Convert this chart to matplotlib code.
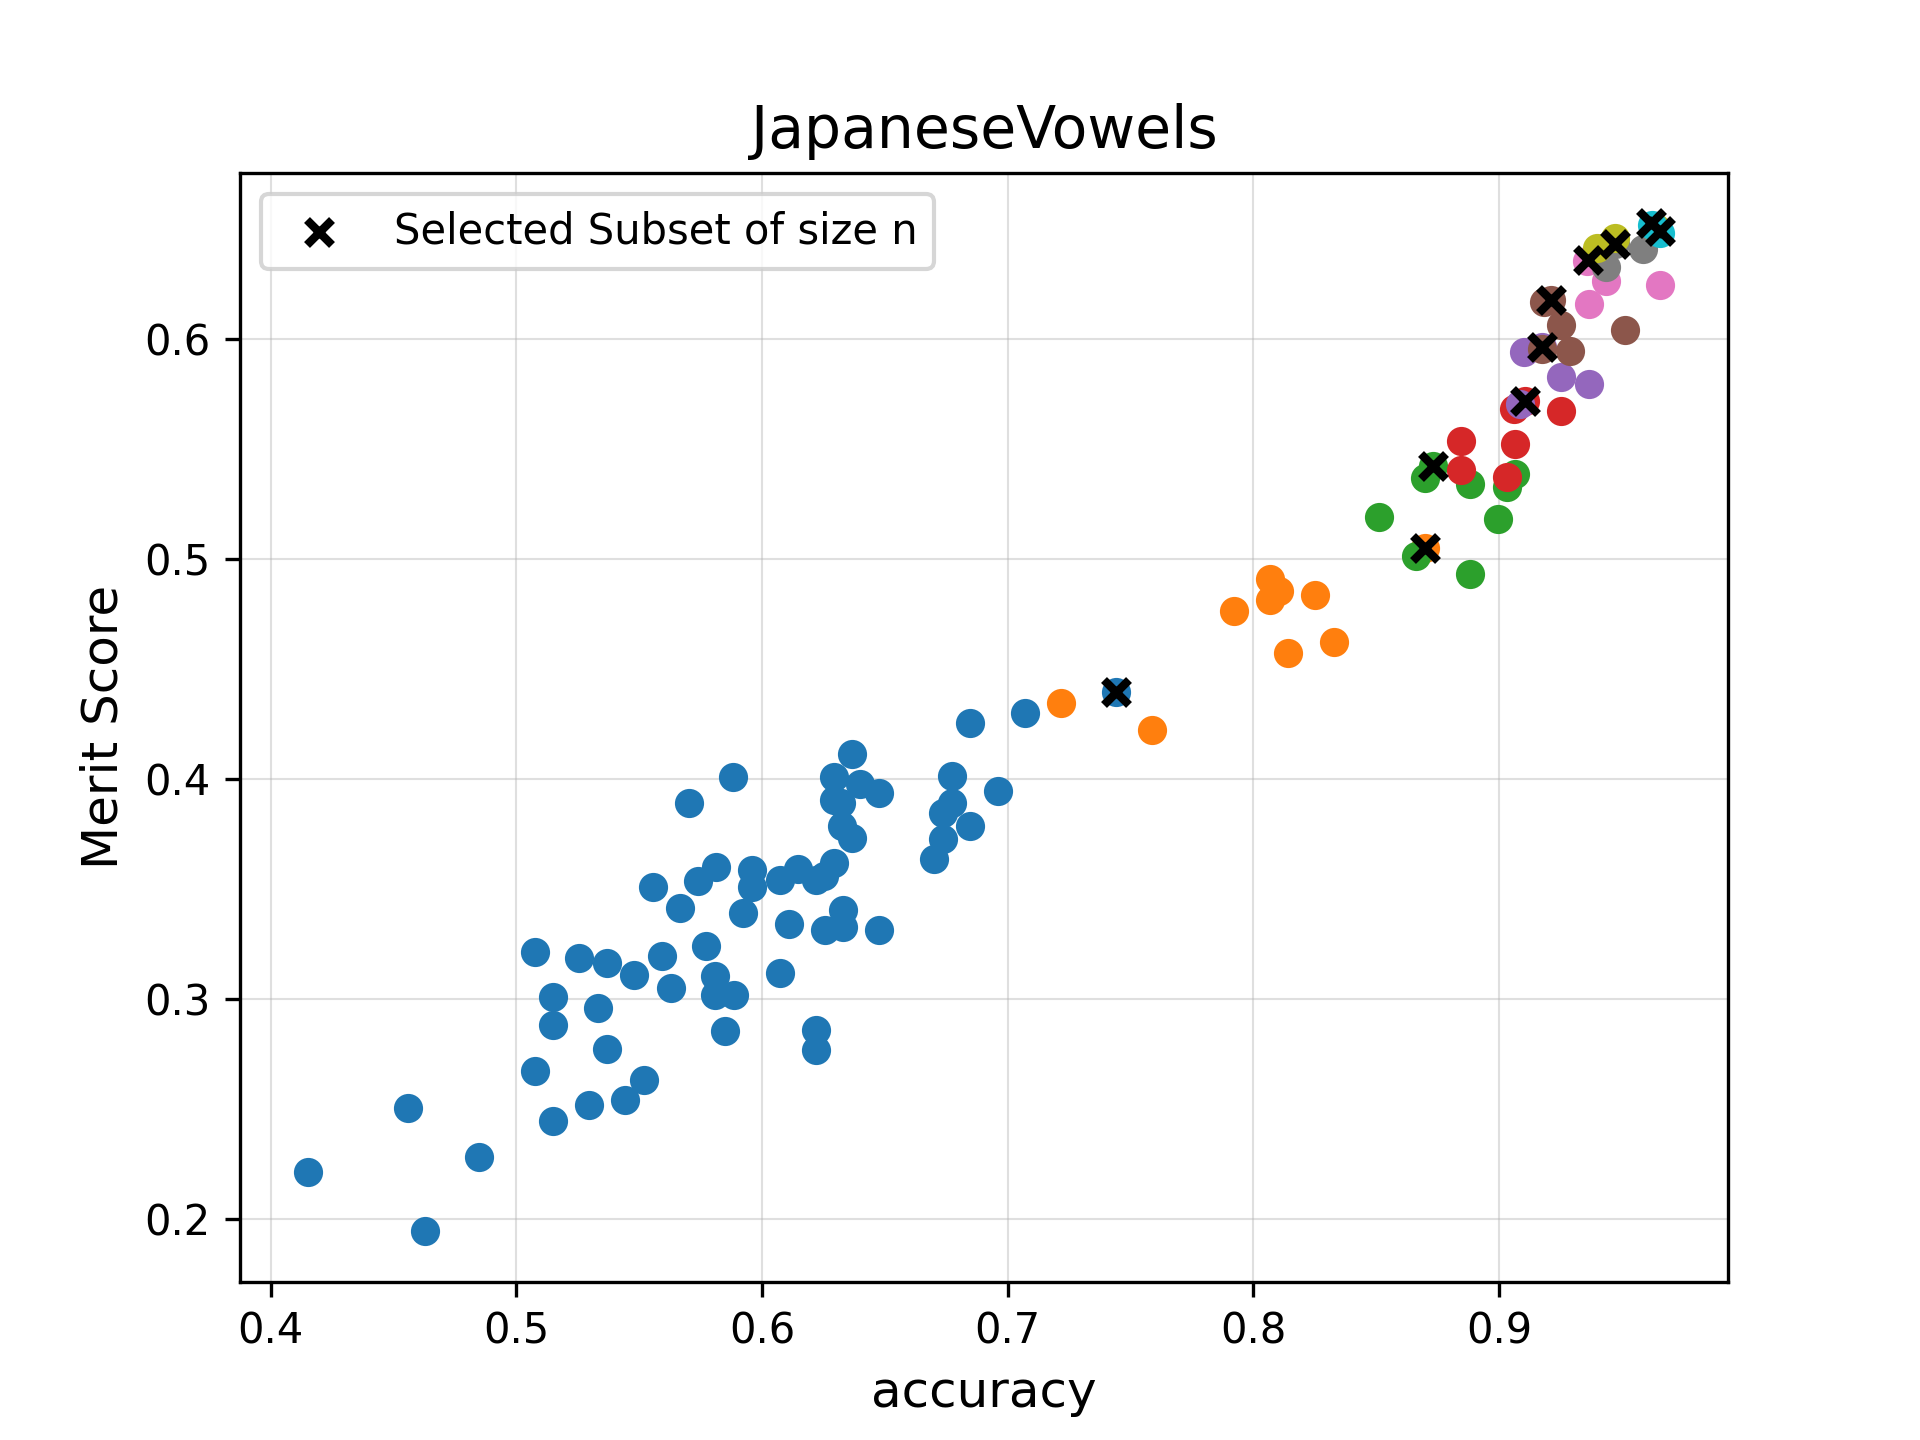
import matplotlib
matplotlib.use('Agg')
import matplotlib.pyplot as plt

# subset size groups (accuracy, merit score)
acc_1 = [0.415, 0.4559, 0.4629, 0.4848, 0.5074, 0.5256, 0.5367, 0.5477, 0.5591, 0.5628,
         0.5773, 0.581, 0.581, 0.5885, 0.5848, 0.6071, 0.6219, 0.6219, 0.5147, 0.5147,
         0.5331, 0.5367, 0.5074, 0.5518, 0.5441, 0.5294, 0.5147, 0.5555, 0.5665, 0.5738,
         0.5811, 0.5958, 0.5958, 0.5921, 0.6071, 0.6146, 0.622, 0.6254, 0.6292, 0.6109,
         0.6255, 0.6329, 0.6329, 0.6478, 0.5702, 0.5881, 0.6845, 0.707, 0.6366, 0.6292,
         0.640, 0.6478, 0.6292, 0.632, 0.6326, 0.6366, 0.6773, 0.696, 0.6773, 0.6736,
         0.6845, 0.6736, 0.670, 0.7441]
merit_1 = [0.2212, 0.2506, 0.1945, 0.2284, 0.3214, 0.3189, 0.3164, 0.3109, 0.3195, 0.305,
           0.3241, 0.3106, 0.302, 0.302, 0.2855, 0.3118, 0.2861, 0.2771, 0.301, 0.2882,
           0.2959, 0.2773, 0.2674, 0.2632, 0.2541, 0.2518, 0.2447, 0.3509, 0.3413, 0.3536,
           0.360, 0.3586, 0.351, 0.3391, 0.3542, 0.3591, 0.3541, 0.356, 0.3618, 0.3341,
           0.3313, 0.3404, 0.3328, 0.3313, 0.3892, 0.4009, 0.4254, 0.4299, 0.4113, 0.401,
           0.398, 0.3939, 0.3904, 0.389, 0.3787, 0.3734, 0.4015, 0.3946, 0.3893, 0.3848,
           0.3787, 0.3727, 0.3636, 0.4395]

acc_2 = [0.7217, 0.7588, 0.7922, 0.8068, 0.8106, 0.8068, 0.8252, 0.8142, 0.833, 0.8697]
merit_2 = [0.4345, 0.4222, 0.4767, 0.4911, 0.4858, 0.4813, 0.4836, 0.4572, 0.4622, 0.5052]

acc_3 = [0.8661, 0.8513, 0.8884, 0.8994, 0.8732, 0.8697, 0.8884, 0.9031, 0.9067]
merit_3 = [0.5013, 0.5194, 0.4931, 0.5181, 0.5426, 0.537, 0.534, 0.5328, 0.5388]

acc_4 = [0.8847, 0.8847, 0.9067, 0.9031, 0.9104, 0.9063, 0.9251]
merit_4 = [0.5537, 0.5408, 0.5526, 0.5373, 0.5718, 0.5683, 0.5676]

acc_5 = [0.9087, 0.9102, 0.9176, 0.9251, 0.9365]
merit_5 = [0.5706, 0.5941, 0.5965, 0.5827, 0.5799]

acc_6 = [0.9176, 0.929, 0.9251, 0.9182, 0.9211, 0.9511]
merit_6 = [0.5955, 0.5946, 0.6064, 0.617, 0.618, 0.6044]

acc_7 = [0.9365, 0.9437, 0.9657, 0.9358]
merit_7 = [0.6162, 0.6264, 0.6249, 0.6354]

acc_8 = [0.9437, 0.9585, 0.9474]
merit_8 = [0.6327, 0.6412, 0.6433]

acc_9 = [0.9399, 0.9474, 0.964]
merit_9 = [0.6415, 0.646, 0.6505]

acc_10 = [0.9623, 0.9657]
merit_10 = [0.6521, 0.6483]

groups = [(acc_1, merit_1), (acc_2, merit_2), (acc_3, merit_3), (acc_4, merit_4),
          (acc_5, merit_5), (acc_6, merit_6), (acc_7, merit_7), (acc_8, merit_8),
          (acc_9, merit_9), (acc_10, merit_10)]

# best subset per size
sel_acc = [0.7441, 0.8697, 0.8732, 0.9104, 0.9176, 0.9211, 0.9362, 0.9474, 0.962, 0.9657]
sel_merit = [0.4395, 0.5052, 0.5426, 0.5718, 0.5965, 0.618, 0.6359, 0.6433, 0.6528, 0.6491]

fig = plt.figure(figsize=(6.4, 4.8), dpi=300)
ax = plt.gca()

for acc, merit in groups:
    ax.scatter(acc, merit)

ax.scatter(sel_acc, sel_merit, marker='x', color='black', linewidths=2,
           label='Selected Subset of size n')

ax.grid(alpha=0.4, linewidth=0.5)
ax.set_axisbelow(True)
plt.title('JapaneseVowels', fontsize=14)
plt.xlabel('accuracy', fontsize=12)
plt.ylabel('Merit Score', fontsize=12)
plt.legend(loc='upper left', fontsize=10)

plt.savefig('out.png')
plt.close('all')
